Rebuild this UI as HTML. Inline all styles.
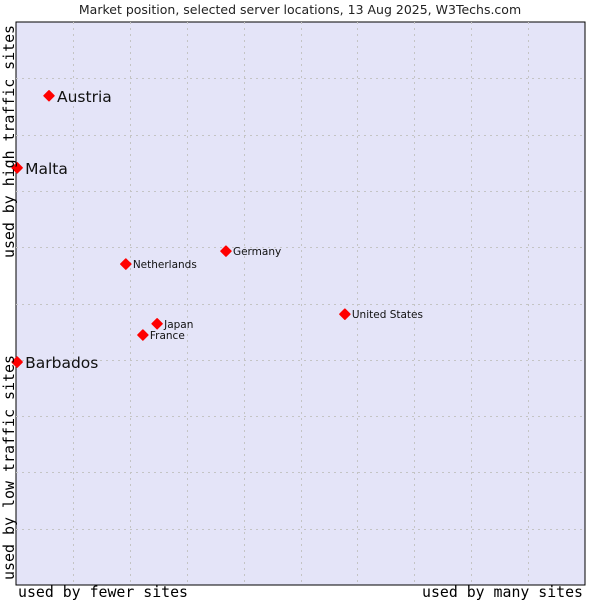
<!DOCTYPE html>
<html><head><meta charset="utf-8"><style>
body{margin:0;background:#fff;width:600px;height:600px;overflow:hidden}
svg{display:block}
</style></head><body>
<svg id="chart" width="600" height="600">
<text x="300" y="14" text-anchor="middle" font-family="DejaVu Sans, sans-serif" font-size="12.5" fill="#222">Market position, selected server locations, 13 Aug 2025, W3Techs.com</text>
<rect x="16" y="22" width="569" height="563" fill="#e4e4f8" stroke="#000" stroke-width="1"/>
<g id="grid"></g>
<g id="points"></g>
<text x="18" y="597" textLength="170" lengthAdjust="spacingAndGlyphs" font-family="DejaVu Sans Mono, monospace" font-size="15" fill="#000">used by fewer sites</text>
<text x="422" y="597" textLength="161" lengthAdjust="spacingAndGlyphs" font-family="DejaVu Sans Mono, monospace" font-size="15" fill="#000">used by many sites</text>
<text transform="translate(14,258) rotate(-90)" textLength="233" lengthAdjust="spacingAndGlyphs" font-family="DejaVu Sans Mono, monospace" font-size="15" fill="#000">used by high traffic sites</text>
<text transform="translate(14,580) rotate(-90)" textLength="225" lengthAdjust="spacingAndGlyphs" font-family="DejaVu Sans Mono, monospace" font-size="15" fill="#000">used by low traffic sites</text>
</svg>
<script>
const names=["Austria","Malta","Netherlands","Germany","United States","Japan","France","Barbados"];
const xValues=[5.8,0.2,19.3,36.9,57.8,24.8,22.3,0.2];
const yValues=[86.9,74.1,57.0,59.3,48.1,46.4,44.4,39.6];
const bigLabel=[true,true,false,false,false,false,false,true];
const L=16,T=22,W=569,H=563;
const sx=v=>L+v/100*W, sy=v=>T+H-v/100*H;
const NS="http://www.w3.org/2000/svg";
const grid=document.getElementById('grid');
for(let i=1;i<10;i++){
 const v=document.createElementNS(NS,'line');
 
 
 const gx=Math.round(sx(i*10))+0.5;
 v.setAttribute('x1',gx);v.setAttribute('x2',gx);v.setAttribute('y1',T);v.setAttribute('y2',T+H);
 v.setAttribute('stroke','#c4c4c4');v.setAttribute('stroke-dasharray','2,4');
 grid.appendChild(v);
 const h=document.createElementNS(NS,'line');
 
 
 const gy=Math.round(sy(i*10))+0.5;
 h.setAttribute('y1',gy);h.setAttribute('y2',gy);h.setAttribute('x1',L);h.setAttribute('x2',L+W);
 h.setAttribute('stroke','#c4c4c4');h.setAttribute('stroke-dasharray','2,4');
 grid.appendChild(h);
}
const pts=document.getElementById('points');
names.forEach((n,i)=>{
 const x=sx(xValues[i]),y=sy(yValues[i]);
 const d=document.createElementNS(NS,'path');
 
 
 d.setAttribute('d',`M${x-5},${y} L${x},${y-5} L${x+5},${y} L${x},${y+5}Z`);
 d.setAttribute('fill','#f00');
 d.setAttribute('stroke','#f00');
 d.setAttribute('stroke-linejoin','round');
 d.setAttribute('stroke-width','1.5');
 pts.appendChild(d);
 const t=document.createElementNS(NS,'text');
 
 
 t.setAttribute('x',x+(bigLabel[i]?8:7));
 t.setAttribute('y',y+(bigLabel[i]?6:4));
 t.setAttribute('font-family','DejaVu Sans, sans-serif');
 t.setAttribute('font-size',bigLabel[i]?15.5:10.5);
 t.setAttribute('fill','#111');
 t.textContent=n;
 pts.appendChild(t);
});
</script>
</body></html>
